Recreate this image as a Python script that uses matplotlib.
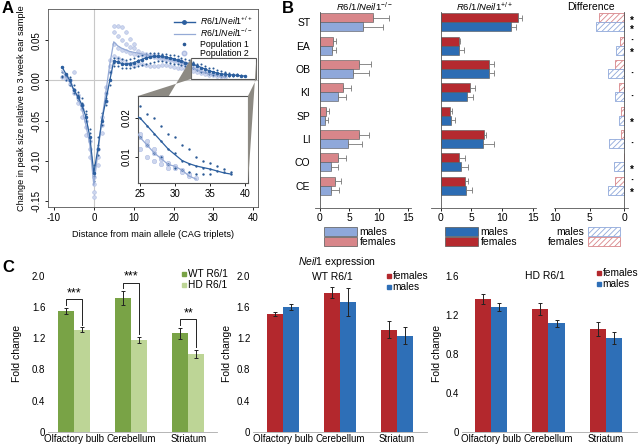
import numpy as np
import matplotlib
matplotlib.use('Agg')
import matplotlib.pyplot as plt
from matplotlib.patches import Polygon, Rectangle, Patch
from matplotlib.lines import Line2D

plt.rcParams['font.family'] = ['Liberation Sans', 'DejaVu Sans']
plt.rcParams['mathtext.fontset'] = 'custom'
plt.rcParams['mathtext.rm'] = 'Liberation Sans'
plt.rcParams['mathtext.it'] = 'Liberation Sans:italic'
plt.rcParams['axes.unicode_minus'] = False
plt.rcParams['hatch.linewidth'] = 0.6
plt.rcParams['font.size'] = 7.5

# ---------------- panel A data ----------------
line_wt_x = list(range(-8, 39))
line_wt_y = [0.017, 0.008, 0.000, -0.012, -0.020, -0.030, -0.045, -0.070, -0.115,
             -0.085, -0.050, -0.025, 0.000, 0.024, 0.023, 0.021, 0.020, 0.021, 0.022,
             0.024, 0.026, 0.028, 0.029, 0.030, 0.030, 0.030, 0.029, 0.028, 0.027,
             0.025, 0.024, 0.022, 0.021, 0.020, 0.018, 0.016, 0.014, 0.012, 0.0105,
             0.009, 0.0082, 0.0076, 0.0072, 0.0068, 0.0063, 0.0058, 0.0055]
line_ko_x = list(range(-8, 34))
line_ko_y = [0.012, 0.005, -0.003, -0.012, -0.022, -0.035, -0.055, -0.080, -0.130,
             -0.090, -0.050, -0.015, 0.020, 0.048, 0.043, 0.040, 0.038, 0.036, 0.035,
             0.034, 0.033, 0.032, 0.031, 0.030, 0.029, 0.028, 0.027, 0.026, 0.025,
             0.024, 0.022, 0.020, 0.018, 0.015, 0.013, 0.011, 0.0095, 0.008, 0.0075,
             0.0065, 0.005, 0.0042]
pop1_x = list(range(-8, 39))
pop1_y = [[0.006, 0.004, 0.010], [0.005, 0.000, 0.006], [-0.002, 0.004, -0.006],
          [-0.010, -0.015, -0.006], [-0.018, -0.024, -0.014], [-0.028, -0.034, -0.022],
          [-0.042, -0.050, -0.038], [-0.065, -0.075, -0.060], [-0.105, -0.118, -0.125],
          [-0.080, -0.092, -0.070], [-0.048, -0.055, -0.040], [-0.022, -0.030, -0.015],
          [0.002, 0.010, -0.006], [0.022, 0.028, 0.018], [0.024, 0.018, 0.028],
          [0.022, 0.016, 0.027], [0.021, 0.015, 0.026], [0.022, 0.016, 0.027],
          [0.023, 0.017, 0.028], [0.025, 0.018, 0.030], [0.027, 0.019, 0.031],
          [0.029, 0.021, 0.033], [0.030, 0.022, 0.034], [0.031, 0.023, 0.034],
          [0.031, 0.024, 0.034], [0.030, 0.024, 0.033], [0.029, 0.023, 0.033],
          [0.028, 0.022, 0.032], [0.027, 0.021, 0.031], [0.025, 0.020, 0.030],
          [0.024, 0.019, 0.028], [0.022, 0.018, 0.027], [0.021, 0.017, 0.025],
          [0.020, 0.015, 0.023], [0.018, 0.013, 0.021], [0.016, 0.011, 0.020],
          [0.014, 0.010, 0.018], [0.012, 0.008, 0.016], [0.011, 0.007, 0.015],
          [0.009, 0.0065, 0.013], [0.008, 0.006, 0.012], [0.0075, 0.0055, 0.010],
          [0.007, 0.0055, 0.009], [0.0068, 0.0055, 0.0085], [0.0062, 0.0075],
          [0.006, 0.0068], [0.0055, 0.006]]
pop2_x = list(range(-8, 34))
pop2_y = [[0.004], [0.002, 0.006], [-0.004, 0.001], [-0.012, -0.016, 0.011],
          [-0.022, -0.028, -0.018], [-0.036, -0.045, -0.030], [-0.058, -0.068, -0.050],
          [-0.085, -0.095, -0.075], [-0.128, -0.138, -0.145, -0.120],
          [-0.095, -0.105, -0.085], [-0.055, -0.065, -0.045], [-0.015, -0.025, -0.008],
          [0.018, 0.025, 0.010], [0.045, 0.060, 0.068, 0.030], [0.040, 0.055, 0.068, 0.028],
          [0.038, 0.050, 0.066, 0.025], [0.036, 0.045, 0.060, 0.022],
          [0.034, 0.042, 0.052, 0.020], [0.033, 0.040, 0.045, 0.018],
          [0.032, 0.036, 0.022], [0.031, 0.034, 0.020], [0.030, 0.033, 0.019],
          [0.030, 0.032, 0.018], [0.029, 0.031, 0.018], [0.028, 0.030, 0.018],
          [0.027, 0.029, 0.019], [0.026, 0.028, 0.019], [0.025, 0.027, 0.018],
          [0.024, 0.026, 0.017], [0.023, 0.025, 0.016], [0.021, 0.024, 0.015],
          [0.019, 0.022, 0.014], [0.017, 0.020, 0.013], [0.015, 0.016, 0.012],
          [0.013, 0.014, 0.010], [0.011, 0.012, 0.009], [0.0095, 0.010, 0.008],
          [0.008, 0.0085, 0.007], [0.0075, 0.007], [0.0065, 0.006], [0.005, 0.0055],
          [0.0045]]

# ---------------- panel B data ----------------
tissues = ['ST', 'EA', 'OB', 'KI', 'SP', 'LI', 'CO', 'CE']
ko_f = [9.1, 2.3, 6.7, 4.0, 1.1, 6.7, 3.0, 2.6]
ko_f_err = [2.6, 0.5, 2.0, 1.3, 0.4, 1.7, 1.4, 1.0]
ko_m = [7.4, 2.0, 5.6, 3.0, 0.8, 4.7, 1.8, 1.8]
ko_m_err = [3.3, 0.8, 2.8, 1.4, 0.6, 2.5, 1.2, 1.5]
wt_f = [12.5, 3.05, 7.9, 4.7, 1.55, 7.1, 2.95, 3.9]
wt_f_err = [0.7, 0.05, 0.8, 0.8, 0.35, 0.2, 1.05, 0.55]
wt_m = [11.4, 2.95, 7.8, 4.3, 1.7, 6.9, 3.3, 4.1]
wt_m_err = [0.8, 0.8, 0.9, 0.9, 0.6, 1.7, 1.15, 1.0]
diff_f = [3.6, 0.6, 1.3, 0.7, 0.4, 0.45, 0.05, 1.3]
diff_m = [4.05, 1.15, 2.3, 1.25, 0.7, 2.2, 1.4, 2.3]
sig_f = ['*', '\u00b7', '', '', '', '', '', '\u00b7']
sig_m = ['*', '*', '\u00b7', '\u00b7', '*', '\u00b7', '*', '*']

# ---------------- panel C data ----------------
regions = ['Olfactory bulb', 'Cerebellum', 'Striatum']
wt_fold = [1.55, 1.71, 1.26]
wt_fold_err = [0.04, 0.09, 0.07]
hd_fold = [1.31, 1.18, 1.00]
hd_fold_err = [0.03, 0.04, 0.05]
sig_c = ['***', '***', '**']
wtr6_f = [1.51, 1.78, 1.31]
wtr6_f_err = [0.03, 0.07, 0.11]
wtr6_m = [1.60, 1.66, 1.23]
wtr6_m_err = [0.04, 0.18, 0.11]
hdr6_f = [1.36, 1.26, 1.05]
hdr6_f_err = [0.05, 0.06, 0.07]
hdr6_m = [1.28, 1.11, 0.96]
hdr6_m_err = [0.04, 0.04, 0.06]

W, H = 640, 444


def rect(l, t, r, b):
    return [l / W, 1 - b / H, (r - l) / W, (b - t) / H]


fig = plt.figure(figsize=(6.4, 4.44), dpi=100)

# ======================= A =======================
dark = '#2c5f9f'
lite = '#95aad6'
p1c = '#2b5a96'
p2f = '#cdd6ee'
p2e = '#aebce2'

p1x = [x for x, ys in zip(pop1_x, pop1_y) for y in ys]
p1y = [y for ys in pop1_y for y in ys]
p2x = [x for x, ys in zip(pop2_x, pop2_y) for y in ys]
p2y = [y for ys in pop2_y for y in ys]


def draw_a(ax, big):
    ax.scatter(p2x, p2y, s=7 if big else 10, facecolor=p2f, edgecolor=p2e, lw=0.4, zorder=2)
    ax.scatter(p1x, p1y, s=2.2 if big else 3, color=p1c, lw=0, zorder=3)
    ax.plot(line_ko_x, line_ko_y, color=lite, lw=0.9, zorder=4)
    ax.plot(line_wt_x, line_wt_y, color=dark, lw=0.9, marker='o', ms=1.5 if big else 0, zorder=5)


axA = fig.add_axes(rect(48, 9, 258, 207))
axA.axhline(0, color='#c8c8c8', lw=0.8, zorder=0)
axA.axvline(0, color='#c8c8c8', lw=0.8, zorder=0)
draw_a(axA, True)
axA.set_xlim(-11.5, 41.2)
axA.set_ylim(-0.157, 0.0887)
axA.set_xticks([-10, 0, 10, 20, 30, 40])
axA.set_yticks([-0.15, -0.10, -0.05, 0.0, 0.05])
axA.set_yticklabels(['-0.15', '-0.10', '-0.05', '0.00', '0.05'], rotation=90, va='center')
axA.tick_params(length=2.5, width=0.6, pad=2, labelsize=7)
axA.set_xlabel('Distance from main allele (CAG triplets)', labelpad=5, fontsize=6.6)
axA.set_ylabel('Change in peak size relative to 3 week ear sample', labelpad=4, fontsize=6.6)
for s in axA.spines.values():
    s.set_linewidth(0.6)
    s.set_color('#555555')
axA.add_patch(Rectangle((24.5, 0.002), 16.3, 0.026, fill=False, ec='#555555', lw=0.8, zorder=6))
leg = axA.legend(handles=[
    Line2D([], [], color=dark, lw=1.0, marker='o', ms=2.5),
    Line2D([], [], color=lite, lw=0.9),
    Line2D([], [], color=p1c, lw=0, marker='o', ms=1.6),
    Line2D([], [], color=p2f, markeredgecolor=p2e, lw=0, marker='o', ms=3.2)],
    labels=[r'$\mathit{R6/1/Neil1}^{+/+}$', r'$\mathit{R6/1/Neil1}^{-/-}$',
            'Population 1', 'Population 2'],
    loc='upper right', fontsize=6.3, frameon=False, handlelength=2.4,
    labelspacing=0.05, borderaxespad=0.2, handletextpad=0.6)

axI = fig.add_axes(rect(138, 96, 248, 183))
draw_a(axI, False)
axI.set_xlim(24.7, 40.4)
axI.set_ylim(0.0032, 0.0257)
axI.set_xticks([25, 30, 35, 40])
axI.set_yticks([0.01, 0.02])
axI.set_yticklabels(['0.01', '0.02'], rotation=90, va='center')
axI.tick_params(length=2.5, width=0.6, pad=2, labelsize=7)
for s in axI.spines.values():
    s.set_linewidth(0.8)
    s.set_color('#555555')

# grey connector wedges
to_fig = fig.transFigure.inverted()


def fp(ax, pt, data=True):
    tr = ax.transData if data else ax.transAxes
    return to_fig.transform(tr.transform(pt))


wedge_l = [fp(axI, (0, 1), False), fp(axA, (24.5, 0.002)), fp(axA, (24.5, 0.028)),
           fp(axI, (0.28, 1), False)]
wedge_r = [fp(axA, (40.8, 0.028)), fp(axI, (1, 0), False), fp(axI, (1, 1), False),
           fp(axA, (40.8, 0.002))]
for w in (wedge_l, wedge_r):
    fig.patches.append(Polygon(w, closed=True, transform=fig.transFigure,
                               facecolor='#8d8a83', edgecolor='none', zorder=0.5))

# ======================= B =======================
red_d, blue_d = '#b52a2f', '#2c6cb3'
red_l, blue_l = '#d8868a', '#8fa8da'
pos = np.arange(len(tissues))
bh = 0.385


def hbar(ax, f, fe, m, me, cf, cm):
    ax.barh(pos - bh / 2, f, height=bh, color=cf, edgecolor='#555555', lw=0.4,
            xerr=[np.zeros(len(f)), fe], error_kw=dict(ecolor='#777777', elinewidth=0.6,
                                                         capsize=2.5, capthick=0.6))
    ax.barh(pos + bh / 2, m, height=bh, color=cm, edgecolor='#555555', lw=0.4,
            xerr=[np.zeros(len(m)), me], error_kw=dict(ecolor='#777777', elinewidth=0.6,
                                                         capsize=2.5, capthick=0.6))


def style_b(ax):
    ax.set_ylim(7.95, -0.45)
    for s in ['top', 'right']:
        ax.spines[s].set_visible(False)
    ax.spines['left'].set_position(('data', 0))
    for s in ax.spines.values():
        s.set_linewidth(0.6)
        s.set_color('#555555')
    ax.set_xticks([0, 5, 10, 15])
    ax.tick_params(axis='x', length=2, width=0.6, pad=1.5)
    ax.tick_params(axis='y', length=0)


axB1 = fig.add_axes(rect(315.3, 11.7, 410.8, 208))
hbar(axB1, ko_f, ko_f_err, ko_m, ko_m_err, red_l, blue_l)
axB1.set_xlim(-0.8, 15.5)
style_b(axB1)
axB1.set_yticks(pos)
axB1.set_yticklabels(tissues, fontsize=7.5)
axB1.tick_params(axis='y', pad=7)
fig.text(364 / W, 1 - 10.5 / H, r'$\mathit{R6/1/Neil1}^{-/-}$', ha='center', va='baseline',
         fontsize=6.8)

axB2 = fig.add_axes(rect(430.7, 11.7, 536.4, 208))
hbar(axB2, wt_f, wt_f_err, wt_m, wt_m_err, red_d, blue_d)
axB2.set_xlim(-1.6, 15.5)
style_b(axB2)
axB2.set_yticks([])
fig.text(484 / W, 1 - 10.5 / H, r'$\mathit{R6/1/Neil1}^{+/+}$', ha='center', va='baseline',
         fontsize=6.8)

axB3 = fig.add_axes(rect(553.6, 11.7, 627.5, 208))
axB3.barh(pos - bh / 2, diff_f, height=bh, color='white', edgecolor=red_l, hatch='//////', lw=0.6)
axB3.barh(pos + bh / 2, diff_m, height=bh, color='white', edgecolor=blue_l, hatch='//////', lw=0.6)
axB3.set_xlim(10.2, -0.5)
axB3.set_ylim(7.95, -0.45)
for s in ['top', 'left']:
    axB3.spines[s].set_visible(False)
axB3.spines['right'].set_position(('data', 0))
for s in axB3.spines.values():
    s.set_linewidth(0.6)
    s.set_color('#555555')
axB3.set_xticks([10, 5, 0])
axB3.set_yticks([])
axB3.tick_params(axis='x', length=2, width=0.6, pad=1.5)
axB3.set_title('Difference', fontsize=7.5, pad=1)
for i in range(len(tissues)):
    for sg, off in ((sig_f[i], -bh / 2), (sig_m[i], bh / 2)):
        if sg:
            axB3.text(-1.1, i + off + (0.12 if sg == '*' else 0), sg, ha='center', va='center',
                      fontsize=7 if sg == '*' else 8, fontweight='bold', clip_on=False)

lkw = dict(frameon=False, fontsize=7.5, handlelength=3.1, handleheight=0.95,
           labelspacing=0.0, borderpad=0, handletextpad=0.3, bbox_transform=fig.transFigure)
fig.legend(handles=[Patch(fc=blue_l, ec='#555555', lw=0.5), Patch(fc=red_l, ec='#555555', lw=0.5)],
           labels=['males', 'females'], loc='upper left', bbox_to_anchor=(319 / W, 1 - 222 / H), **lkw)
fig.legend(handles=[Patch(fc=blue_d, ec='#555555', lw=0.5), Patch(fc=red_d, ec='#555555', lw=0.5)],
           labels=['males', 'females'], loc='upper left', bbox_to_anchor=(440 / W, 1 - 222 / H), **lkw)
fig.legend(handles=[Patch(fc='white', ec=blue_l, hatch='//////', lw=0.6),
                    Patch(fc='white', ec=red_l, hatch='//////', lw=0.6)],
           labels=['males', 'females'], loc='upper right', markerfirst=False,
           bbox_to_anchor=(625 / W, 1 - 222 / H), **lkw)

# ======================= C =======================
g_d, g_l = '#79a346', '#bdd596'
c_red, c_blue = '#b3282d', '#2e6fb7'
cx = np.arange(len(regions))
bw = 0.28
ekw = dict(ecolor='#222222', elinewidth=0.7, capsize=1.5, capthick=0.7)


def style_c(ax, ymax, ticks, labels):
    ax.set_ylim(0, ymax)
    ax.set_yticks(ticks)
    ax.set_yticklabels(labels)
    ax.set_xticks(cx)
    ax.set_xticklabels(regions)
    for s in ['top', 'right', 'left']:
        ax.spines[s].set_visible(False)
    ax.spines['bottom'].set_color('#aaaaaa')
    ax.spines['bottom'].set_linewidth(0.6)
    ax.tick_params(length=0, labelsize=7, pad=2)
    ax.set_ylabel('Fold change', fontsize=7.5)


def bars_c(ax, a, ae, b, be, ca, cb):
    ax.bar(cx - bw / 2, a, width=bw, color=ca, yerr=ae, error_kw=ekw)
    ax.bar(cx + bw / 2, b, width=bw, color=cb, yerr=be, error_kw=ekw)


ctick2 = [0, 0.4, 0.8, 1.2, 1.6, 2.0]
clab2 = ['0', '0.4', '0.8', '1.2', '1.6', '2.0']
legc = dict(loc='upper left', bbox_transform=fig.transFigure, frameon=False, fontsize=7.3,
            handlelength=0.5, handletextpad=0.15, labelspacing=0.1, borderpad=0)

axC1 = fig.add_axes(rect(48.2, 275.7, 217, 431.7))
bars_c(axC1, wt_fold, wt_fold_err, hd_fold, hd_fold_err, g_d, g_l)
axC1.set_xlim(-0.45, 2.5)
style_c(axC1, 2.0, ctick2, clab2)
axC1.yaxis.set_label_coords(-0.155, 0.5)
for i in range(len(regions)):
    top_a = wt_fold[i] + wt_fold_err[i]
    top_b = hd_fold[i] + hd_fold_err[i]
    yb = top_a + 0.11
    axC1.plot([cx[i] - bw / 2, cx[i] - bw / 2, cx[i] + bw / 2, cx[i] + bw / 2],
              [top_a + 0.04, yb, yb, top_b + 0.03], color='#222222', lw=0.7, clip_on=False)
    axC1.text(cx[i], yb + 0.0, sig_c[i], ha='center', va='bottom', fontsize=9, clip_on=False)
fig.legend(handles=[Line2D([], [], lw=0, marker='s', ms=3.5, color=g_d),
                    Line2D([], [], lw=0, marker='s', ms=3.5, color=g_l)],
           labels=['WT R6/1', 'HD R6/1'], bbox_to_anchor=(176 / W, 1 - 264 / H), **legc)

axC2 = fig.add_axes(rect(253, 275.7, 427, 431.7))
bars_c(axC2, wtr6_f, wtr6_f_err, wtr6_m, wtr6_m_err, c_red, c_blue)
axC2.set_xlim(-0.53, 2.53)
style_c(axC2, 2.0, ctick2, clab2)
axC2.yaxis.set_label_coords(-0.122, 0.5)
fig.text(337 / W, 1 - 262 / H, r'$\mathit{Neil1}$ expression', ha='center', va='center', fontsize=7.5)
fig.text(332 / W, 1 - 277 / H, 'WT R6/1', ha='center', va='center', fontsize=7.5)
fig.legend(handles=[Line2D([], [], lw=0, marker='s', ms=3.5, color=c_red),
                    Line2D([], [], lw=0, marker='s', ms=3.5, color=c_blue)],
           labels=['females', 'males'], bbox_to_anchor=(381 / W, 1 - 266 / H), **legc)

axC3 = fig.add_axes(rect(461.7, 275.7, 637, 431.7))
bars_c(axC3, hdr6_f, hdr6_f_err, hdr6_m, hdr6_m_err, c_red, c_blue)
axC3.set_xlim(-0.51, 2.54)
style_c(axC3, 1.6, [0, 0.4, 0.8, 1.2, 1.6], ['0', '0.4', '0.8', '1.2', '1.6'])
axC3.yaxis.set_label_coords(-0.114, 0.5)
fig.text(545 / W, 1 - 276 / H, 'HD R6/1', ha='center', va='center', fontsize=7.5)
fig.legend(handles=[Line2D([], [], lw=0, marker='s', ms=3.5, color=c_red),
                    Line2D([], [], lw=0, marker='s', ms=3.5, color=c_blue)],
           labels=['females', 'males'], bbox_to_anchor=(591 / W, 1 - 263 / H), **legc)

# panel letters
fig.text(2 / W, 1 - 1 / H, 'A', fontsize=12, fontweight='bold', va='top')
fig.text(282 / W, 1 - 1 / H, 'B', fontsize=12, fontweight='bold', va='top')
fig.text(2 / W, 1 - 260 / H, 'C', fontsize=12, fontweight='bold', va='top')

fig.savefig('out.png', dpi=100)
